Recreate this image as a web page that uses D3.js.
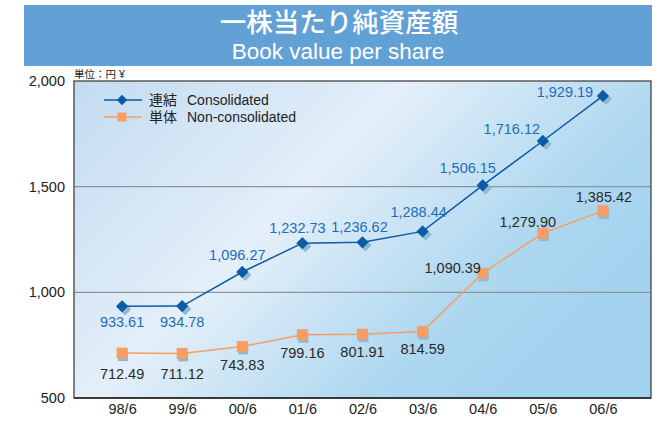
<!DOCTYPE html>
<html><head><meta charset="utf-8">
<script src="https://cdn.jsdelivr.net/npm/d3@7"></script>
<style>body{margin:0;background:#fff}svg{display:block}</style>
</head><body>
<svg id="c" width="658" height="421"></svg>
<script>
const categories = ["98/6","99/6","00/6","01/6","02/6","03/6","04/6","05/6","06/6"];
const consolidated = [933.61,934.78,1096.27,1232.73,1236.62,1288.44,1506.15,1716.12,1929.19];
const nonConsolidated = [712.49,711.12,743.83,799.16,801.91,814.59,1090.39,1279.90,1385.42];
const yTicks = [500,1000,1500,2000];
const seriesJa = ["連結","単体"];
const seriesEn = ["Consolidated","Non-consolidated"];
const titleJa = "一株当たり純資産額";
const titleEn = "Book value per share";
const unitLabel = "単位：円 ¥";

// label offsets (style)
const consOff = [[0,21],[0,21],[-5,-12],[-5,-10],[-3,-10],[-4,-14],[-15,-12],[-31,-7],[-38,1]];
const nonOff = [[0,26],[0,26],[0,24],[0,23],[0,23],[0,22],[-30,0],[-15,-6],[1,-9]];

const svg = d3.select("#c");
const L=74,R=651,T=81,B=398;
const x = d3.scalePoint().domain(categories).range([L,R]).padding(0.8);
const y = d3.scaleLinear().domain([500,2000]).range([B,T]);
const font = "'Liberation Sans', Arial, Helvetica, sans-serif";
const mixfont = "'Liberation Sans', 'Noto Sans CJK JP', sans-serif";

// banner
svg.append("rect").attr("x",24).attr("y",5).attr("width",628).attr("height",61).attr("fill","#62a1d6");
svg.append("text").attr("x",339).attr("y",32).attr("text-anchor","middle").attr("fill","#fff")
  .attr("font-family",mixfont).attr("font-size",26.5).attr("font-weight",500).text(titleJa);
svg.append("text").attr("x",338).attr("y",58.5).attr("text-anchor","middle").attr("fill","#fff")
  .attr("font-family",font).attr("font-size",22.5).text(titleEn);

// background gradient
const defs = svg.append("defs");
const g = defs.append("linearGradient").attr("id","bg").attr("x1","0").attr("y1","0").attr("x2","1").attr("y2","0.55");
g.append("stop").attr("offset","0").attr("stop-color","#c3dbf1");
g.append("stop").attr("offset","0.45").attr("stop-color","#e4eff9");
g.append("stop").attr("offset","0.8").attr("stop-color","#afd8f0");
g.append("stop").attr("offset","1").attr("stop-color","#a3d2ef");
svg.append("rect").attr("x",L).attr("y",T).attr("width",R-L).attr("height",B-T).attr("fill","url(#bg)");

// grid
svg.append("g").selectAll("line").data(yTicks.filter(d=>d>500&&d<2000)).join("line")
  .attr("x1",L).attr("x2",R).attr("y1",d=>y(d)).attr("y2",d=>y(d)).attr("stroke","#8c959c").attr("stroke-width",1.2);

// frame
svg.append("rect").attr("x",L).attr("y",T).attr("width",R-L).attr("height",B-T).attr("fill","none").attr("stroke","#444").attr("stroke-width",1.3);
svg.append("line").attr("x1",L).attr("x2",R).attr("y1",B).attr("y2",B).attr("stroke","#222").attr("stroke-width",1.6);

// axes
const yAxis = d3.axisLeft(y).tickValues(yTicks).tickSize(0).tickPadding(9).tickFormat(d3.format(","));
const ya = svg.append("g").attr("transform",`translate(${L},0)`).call(yAxis);
ya.select(".domain").remove();
ya.selectAll("text").attr("font-family",font).attr("font-size",14.5).attr("fill","#222");
const xAxis = d3.axisBottom(x).tickSize(0).tickPadding(6);
const xa = svg.append("g").attr("transform",`translate(0,${B})`).call(xAxis);
xa.select(".domain").remove();
xa.selectAll("text").attr("font-family",font).attr("font-size",14.5).attr("fill","#222");

svg.append("text").attr("x",74).attr("y",78).attr("font-family",mixfont).attr("font-size",10.5).attr("fill","#222").text(unitLabel);

const shadow = "#8fb9cc";
const blue = "#0d5aa7", orange = "#f89d63";
const line = d3.line().x((d,i)=>x(categories[i])).y(d=>y(d));

// non-consolidated
const nonG = svg.append("g");
nonG.selectAll(".sh").data(nonConsolidated).join("rect")
  .attr("x",(d,i)=>x(categories[i])-4).attr("y",d=>y(d)-2).attr("width",10).attr("height",10).attr("fill",shadow);
nonG.append("path").datum(nonConsolidated).attr("d",line).attr("fill","none").attr("stroke",orange).attr("stroke-width",1.5);
nonG.selectAll(".m").data(nonConsolidated).join("rect")
  .attr("x",(d,i)=>x(categories[i])-5.5).attr("y",d=>y(d)-5.5).attr("width",11).attr("height",11).attr("fill",orange);

// consolidated
const sym = d3.symbol().type(d3.symbolSquare).size(75);
const consG = svg.append("g");
consG.selectAll(".sh").data(consolidated).join("path").attr("d",sym)
  .attr("transform",(d,i)=>`translate(${x(categories[i])+3},${y(d)+3}) rotate(45)`).attr("fill",shadow);
consG.append("path").datum(consolidated).attr("d",line).attr("fill","none").attr("stroke",blue).attr("stroke-width",1.5);
consG.selectAll(".m").data(consolidated).join("path").attr("d",sym)
  .attr("transform",(d,i)=>`translate(${x(categories[i])},${y(d)}) rotate(45)`).attr("fill",blue);

// labels
const fmt = d3.format(",.2f");
svg.append("g").selectAll("text").data(consolidated).join("text")
  .attr("x",(d,i)=>x(categories[i])+consOff[i][0]).attr("y",(d,i)=>y(d)+consOff[i][1])
  .attr("text-anchor","middle").attr("font-family",font).attr("font-size",14.5).attr("fill","#1f6db8").text(d=>fmt(d));
svg.append("g").selectAll("text").data(nonConsolidated).join("text")
  .attr("x",(d,i)=>x(categories[i])+nonOff[i][0]).attr("y",(d,i)=>y(d)+nonOff[i][1])
  .attr("text-anchor","middle").attr("font-family",font).attr("font-size",14.5).attr("fill","#2a2a2a").text(d=>fmt(d));

// legend
const lg = svg.append("g");
[0,1].forEach(k=>{
  const ly = 100 + k*17;
  lg.append("line").attr("x1",104).attr("x2",142).attr("y1",ly).attr("y2",ly).attr("stroke",k?orange:blue).attr("stroke-width",1.5);
  if(k===0) lg.append("path").attr("d",d3.symbol().type(d3.symbolSquare).size(55)).attr("transform",`translate(122,${ly}) rotate(45)`).attr("fill",blue);
  else lg.append("rect").attr("x",117.5).attr("y",ly-4.5).attr("width",9).attr("height",9).attr("fill",orange);
  lg.append("text").attr("x",149).attr("y",ly+5).attr("font-family",mixfont).attr("font-size",14).attr("fill","#222").text(seriesJa[k]);
  lg.append("text").attr("x",187).attr("y",ly+5).attr("font-family",font).attr("font-size",14).attr("fill","#222").text(seriesEn[k]);
});
</script>
</body></html>
